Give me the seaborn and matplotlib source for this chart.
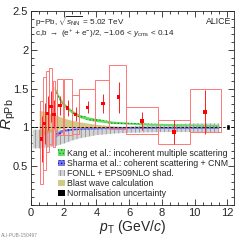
"""ALICE R_pPb of heavy-flavour decay electrons vs model curves."""
import numpy as np
import pandas as pd
import matplotlib
matplotlib.use("Agg")
import matplotlib.pyplot as plt
from matplotlib.patches import Patch
from matplotlib.ticker import MultipleLocator
import seaborn as sns

sns.set_style("ticks")
plt.rcParams['font.family'] = ['Liberation Sans', 'DejaVu Sans']
plt.rcParams['mathtext.fontset'] = 'custom'
plt.rcParams['mathtext.rm'] = 'Liberation Sans'
plt.rcParams['mathtext.it'] = 'Liberation Sans:italic'
plt.rcParams['hatch.linewidth'] = 0.6

# measured points
pt = [0.65, 0.83, 1.02, 1.22, 1.40, 1.77, 2.24, 2.72, 3.46, 4.39, 5.35, 6.79, 8.74, 10.63]
rppb = [0.85, 1.05, 1.18, 1.27, 1.17, 1.28, 1.25, 1.17, 1.26, 1.31, 1.39, 1.08, 0.94, 1.20]
stat = [0.30, 0.27, 0.22, 0.20, 0.18, 0.12, 0.10, 0.09, 0.08, 0.12, 0.20, 0.12, 0.16, 0.28]
# systematic boxes
box_left = [0.54, 0.75, 0.94, 1.13, 1.32, 1.60, 1.99, 2.52, 2.94, 3.88, 4.77, 5.83, 7.76, 9.70]
box_right = [0.76, 0.91, 1.10, 1.30, 1.48, 1.95, 2.50, 2.94, 3.88, 4.77, 5.83, 7.76, 9.70, 11.60]
sys_lo = [0.27, 0.45, 0.68, 0.78, 0.75, 0.90, 0.90, 0.92, 1.00, 1.01, 0.98, 0.92, 0.79, 0.94]
sys_hi = [1.34, 1.65, 1.73, 1.76, 1.60, 1.62, 1.63, 1.42, 1.49, 1.61, 1.80, 1.26, 1.10, 1.49]

# Kang et al.
kang_pt = [1.45, 1.75, 2.0, 2.5, 3.0, 3.5, 4.0, 5.0, 6.0, 7.0, 8.0, 9.0, 10.0, 11.5]
kang_lo = [1.48, 1.35, 1.27, 1.18, 1.12, 1.09, 1.07, 1.045, 1.035, 1.025, 1.02, 1.015, 1.015, 1.01]
kang_hi = [1.53, 1.40, 1.32, 1.22, 1.16, 1.13, 1.11, 1.075, 1.06, 1.05, 1.045, 1.04, 1.035, 1.03]
# Sharma et al.
sharma_pt = [1.55, 1.75, 2.0, 2.5, 3.0, 4.0, 5.0, 6.0, 8.0, 10.0, 11.5]
sharma_lo = [0.87, 0.91, 0.94, 0.96, 0.97, 0.975, 0.98, 0.98, 0.98, 0.98, 0.98]
sharma_hi = [0.92, 0.95, 0.97, 0.985, 0.99, 0.995, 1.0, 1.0, 1.0, 1.0, 1.0]
# FONLL + EPS09NLO
fonll_pt = [0.1, 0.5, 1.0, 1.5, 2.0, 2.5, 3.0, 4.0, 5.0, 6.0, 8.0, 10.0, 11.5]
fonll_lo = [0.73, 0.73, 0.74, 0.76, 0.79, 0.83, 0.86, 0.90, 0.92, 0.93, 0.94, 0.94, 0.94]
fonll_hi = [0.97, 0.97, 0.97, 0.97, 0.96, 0.97, 0.98, 0.99, 1.00, 1.01, 1.04, 1.05, 1.05]
# Blast wave
bw_pt = [0.5, 0.75, 1.0, 1.5, 2.0, 2.5, 3.0, 4.0, 5.0, 6.0, 8.0]
bw_lo = [0.88, 0.90, 0.93, 0.97, 0.99, 1.0, 1.0, 1.0, 1.0, 1.0, 0.995]
bw_hi = [1.22, 1.21, 1.19, 1.16, 1.12, 1.09, 1.07, 1.04, 1.02, 1.01, 1.005]
# normalisation uncertainty
norm_pt = 12.05
norm_unc = 0.04

kang_style = dict(facecolor='#66dd66', edgecolor='#119911', hatch='.....', lw=0)
sharma_style = dict(facecolor='#7878e8', edgecolor='#1111aa', hatch='.....', lw=0)
fonll_style = dict(facecolor='#d4d4d4', edgecolor='#939393', hatch='||||', lw=0)
bw_style = dict(facecolor='#aaa020', alpha=0.55, lw=0)

fig = plt.figure(figsize=(2.42, 2.40), dpi=100)
ax = fig.add_axes([0.128, 0.146, 0.839, 0.808])

ax.fill_between(fonll_pt, fonll_lo, fonll_hi, **fonll_style)
ax.fill_between(bw_pt, bw_lo, bw_hi, **bw_style)
ax.fill_between(kang_pt, kang_lo, kang_hi, **kang_style)
ax.fill_between(sharma_pt, sharma_lo, sharma_hi, **sharma_style)

ax.axhline(1.0, color='black', ls=(0, (3, 2)), lw=0.6)

widths = np.array(box_right) - np.array(box_left)
ax.bar(box_left, np.array(sys_hi) - np.array(sys_lo), width=widths,
       bottom=sys_lo, align='edge', fill=False, edgecolor='#ff7878', lw=0.7)

ax.errorbar(pt, rppb, yerr=stat, fmt='none', ecolor='#ff2020', elinewidth=0.7)
df = pd.DataFrame({'pt': pt, 'rppb': rppb})
sns.scatterplot(data=df, x='pt', y='rppb', marker='s', s=6, color='#ff0000',
                edgecolor='none', ax=ax, zorder=5)

ax.bar([norm_pt], [2 * norm_unc], width=0.22, bottom=1 - norm_unc,
       color='black', align='center')

ax.set_xlim(0, 12.4)
ax.set_ylim(0, 2.5)
ax.set_xticks([0, 2, 4, 6, 8, 10, 12])
ax.set_yticks([0.5, 1, 1.5, 2, 2.5])
ax.set_yticklabels(['0.5', '1', '1.5', '2', '2.5'])
ax.xaxis.set_minor_locator(MultipleLocator(0.5))
ax.yaxis.set_minor_locator(MultipleLocator(0.1))
ax.tick_params(which='both', direction='in', top=True, right=True, width=0.6)
ax.tick_params(which='major', length=4, labelsize=8, pad=2)
ax.tick_params(which='minor', length=2)
for s in ax.spines.values():
    s.set_linewidth(0.6)

ax.set_xlabel(r'$p_{\rm T}$ (GeV/$c$)', fontsize=10, labelpad=0)
ax.set_ylabel(r'$R_{\rm pPb}$', fontsize=11)
ax.yaxis.set_label_coords(-0.065, 0.47)

ax.text(0.02, 0.945, r'p$-$Pb, $\sqrt{s_{\rm NN}}$ = 5.02 TeV', transform=ax.transAxes,
        fontsize=5.9, va='center')
ax.text(0.02, 0.88, r'c,b $\rightarrow$ (e$^{+}$ + e$^{-}$)/2, $-$1.06 < $y_{\rm cms}$ < 0.14',
        transform=ax.transAxes, fontsize=5.9, va='center')
ax.text(0.985, 0.945, 'ALICE', transform=ax.transAxes, fontsize=6.3, va='center', ha='right')

handles = [Patch(**kang_style), Patch(**sharma_style), Patch(**fonll_style),
           Patch(**bw_style), Patch(facecolor='black', lw=0)]
labels = [
    'Kang et al.: incoherent multiple scattering',
    'Sharma et al.: coherent scattering + CNM',
    'FONLL + EPS09NLO shad.',
    'Blast wave calculation',
    'Normalisation uncertainty',
]
ax.legend(handles, labels, loc='upper left', bbox_to_anchor=(0.135, 0.29),
          frameon=False, fontsize=6.3, handlelength=0.75, handleheight=0.75,
          labelspacing=0.12, handletextpad=0.25, borderpad=0, borderaxespad=0)

fig.text(0.005, 0.012, 'ALI-PUB-150497', fontsize=3.5, color='#888888')

fig.savefig('out.png', dpi=100)
